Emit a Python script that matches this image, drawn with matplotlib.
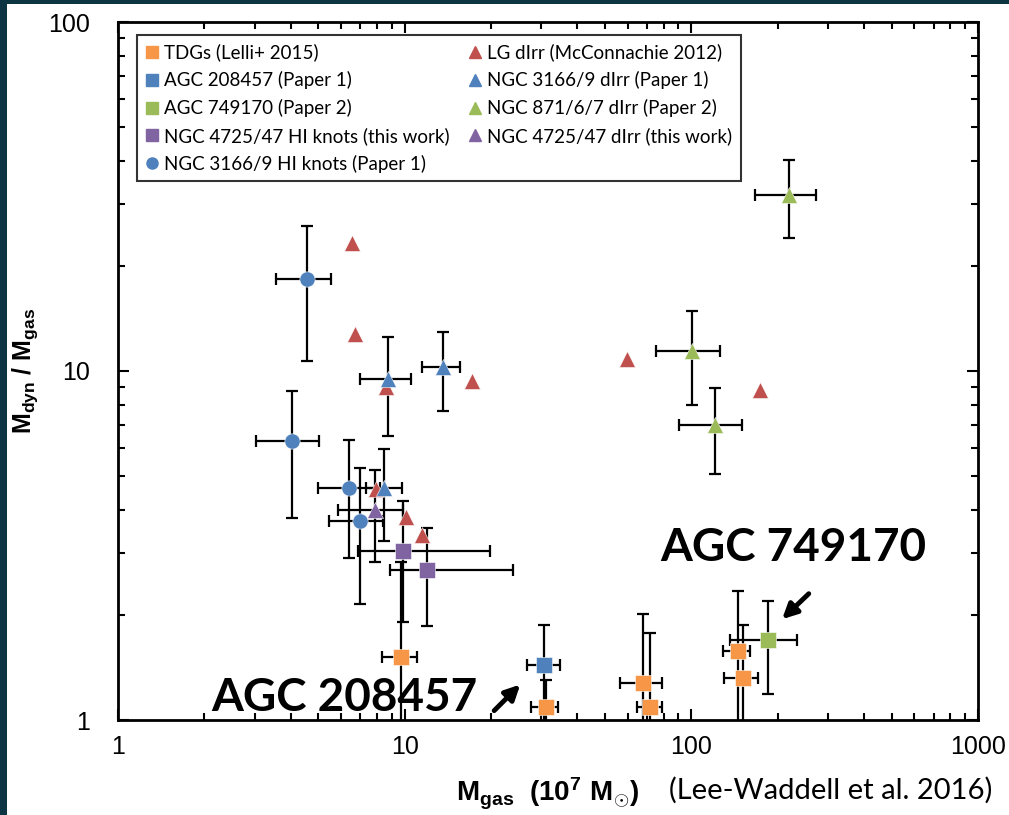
import matplotlib
matplotlib.use("Agg")
import matplotlib.pyplot as plt
from matplotlib.lines import Line2D
from matplotlib.patches import Rectangle
import numpy as np

# Colours (Office palette)
ORANGE = "#F79646"
BLUE = "#4F81BD"
GREEN = "#9BBB59"
PURPLE = "#8064A2"
RED = "#C0504D"

# Each entry: x, y, x_lo, x_hi, y_lo, y_hi  (gas mass in 1e7 Msun, Mdyn/Mgas)
tdg_x = [9.71, 31.1, 67.8, 71.7, 145.5, 151.0]
tdg_y = [1.52, 1.09, 1.28, 1.09, 1.58, 1.32]
tdg_xlo = [8.33, 27.6, 56.4, 64.6, 129.0, 130.0]
tdg_xhi = [11.04, 34.3, 78.9, 78.9, 160.0, 171.0]
tdg_ylo = [0.5, 0.5, 0.5, 0.5, 0.5, 0.5]
tdg_yhi = [2.84, 1.3, 2.01, 1.78, 2.34, 1.87]

agc208_x = [30.6]
agc208_y = [1.44]
agc208_xlo = [26.7]
agc208_xhi = [34.8]
agc208_ylo = [0.8]
agc208_yhi = [1.87]

agc749_x = [185.0]
agc749_y = [1.69]
agc749_xlo = [136.0]
agc749_xhi = [233.0]
agc749_ylo = [1.19]
agc749_yhi = [2.19]

n4725_knot_x = [9.86, 11.96]
n4725_knot_y = [3.05, 2.69]
n4725_knot_xlo = [6.87, 8.89]
n4725_knot_xhi = [19.8, 23.9]
n4725_knot_ylo = [1.91, 1.86]
n4725_knot_yhi = [4.24, 3.55]

n3166_knot_x = [4.56, 4.05, 6.39, 6.98]
n3166_knot_y = [18.3, 6.3, 4.62, 3.72]
n3166_knot_xlo = [3.56, 3.03, 4.99, 5.44]
n3166_knot_xhi = [5.53, 5.02, 8.2, 8.40]
n3166_knot_ylo = [10.7, 3.79, 2.91, 2.15]
n3166_knot_yhi = [26.0, 8.76, 6.35, 5.27]

lg_x = [6.55, 6.71, 8.6, 17.2, 59.6, 173.0, 7.94, 10.1, 11.5]
lg_y = [23.3, 12.8, 9.0, 9.35, 10.8, 8.83, 4.59, 3.81, 3.39]

n3166_dirr_x = [8.74, 13.6, 8.47]
n3166_dirr_y = [9.48, 10.3, 4.62]
n3166_dirr_xlo = [6.98, 11.5, 7.33]
n3166_dirr_xhi = [10.5, 15.6, 9.79]
n3166_dirr_ylo = [6.51, 7.68, 3.26]
n3166_dirr_yhi = [12.5, 12.9, 5.98]

n871_x = [219.0, 100.5, 121.0]
n871_y = [31.9, 11.4, 7.0]
n871_xlo = [167.0, 75.3, 90.5]
n871_xhi = [272.0, 126.0, 150.0]
n871_ylo = [24.0, 8.0, 5.07]
n871_yhi = [40.2, 14.9, 8.94]

n4725_dirr_x = [7.88]
n4725_dirr_y = [4.0]
n4725_dirr_xlo = [5.85]
n4725_dirr_xhi = [9.86]
n4725_dirr_ylo = [2.84]
n4725_dirr_yhi = [5.2]

legend_labels = [
    "TDGs (Lelli+ 2015)",
    "AGC 208457 (Paper 1)",
    "AGC 749170 (Paper 2)",
    "NGC 4725/47 HI knots (this work)",
    "NGC 3166/9 HI knots (Paper 1)",
    "LG dIrr (McConnachie 2012)",
    "NGC 3166/9 dIrr (Paper 1)",
    "NGC 871/6/7 dIrr (Paper 2)",
    "NGC 4725/47 dIrr (this work)",
]

plt.rcParams["mathtext.fontset"] = "custom"
plt.rcParams["mathtext.rm"] = "Liberation Sans"
plt.rcParams["mathtext.bf"] = "Liberation Sans:bold"

fig = plt.figure(figsize=(10.09, 8.15), dpi=100, facecolor="#0c3443")
fig.patches.append(Rectangle((7 / 1009, 0), 1, 811 / 815, transform=fig.transFigure,
                             facecolor="white", edgecolor="none", zorder=-10))
ax = fig.add_axes([118 / 1009, 95 / 815, 860 / 1009, 698 / 815])
ax.set_facecolor("white")


def draw(x, y, color, marker, ms, xlo=None, xhi=None, ylo=None, yhi=None):
    x = np.array(x)
    y = np.array(y)
    if xlo is not None:
        xerr = [x - np.array(xlo), np.array(xhi) - x]
        yerr = [y - np.array(ylo), np.array(yhi) - y]
        ax.errorbar(x, y, xerr=xerr, yerr=yerr, fmt="none", ecolor="black",
                    elinewidth=1.6, capsize=4, capthick=1.6, zorder=2)
    ax.plot(x, y, linestyle="none", marker=marker, ms=ms, color=color,
            mec="white", mew=0.4, zorder=3)


draw(tdg_x, tdg_y, ORANGE, "s", 11, tdg_xlo, tdg_xhi, tdg_ylo, tdg_yhi)
draw(agc208_x, agc208_y, BLUE, "s", 11, agc208_xlo, agc208_xhi, agc208_ylo, agc208_yhi)
draw(agc749_x, agc749_y, GREEN, "s", 11, agc749_xlo, agc749_xhi, agc749_ylo, agc749_yhi)
draw(n4725_knot_x, n4725_knot_y, PURPLE, "s", 11,
     n4725_knot_xlo, n4725_knot_xhi, n4725_knot_ylo, n4725_knot_yhi)
draw(n3166_knot_x, n3166_knot_y, BLUE, "o", 11,
     n3166_knot_xlo, n3166_knot_xhi, n3166_knot_ylo, n3166_knot_yhi)
draw(lg_x, lg_y, RED, "^", 12)
draw(n3166_dirr_x, n3166_dirr_y, BLUE, "^", 12,
     n3166_dirr_xlo, n3166_dirr_xhi, n3166_dirr_ylo, n3166_dirr_yhi)
draw(n871_x, n871_y, GREEN, "^", 12, n871_xlo, n871_xhi, n871_ylo, n871_yhi)
draw(n4725_dirr_x, n4725_dirr_y, PURPLE, "^", 12,
     n4725_dirr_xlo, n4725_dirr_xhi, n4725_dirr_ylo, n4725_dirr_yhi)

ax.set_xscale("log")
ax.set_yscale("log")
ax.set_xlim(1, 1000)
ax.set_ylim(1, 100)
ax.set_xticks([1, 10, 100, 1000])
ax.set_xticklabels(["1", "10", "100", "1000"])
ax.set_yticks([1, 10, 100])
ax.set_yticklabels(["1", "10", "100"])
ax.tick_params(which="both", direction="in", top=True, right=True, width=1.5)
ax.tick_params(which="major", length=8)
ax.tick_params(which="minor", length=5)
ax.tick_params(axis="y", pad=20, labelsize=18)
ax.tick_params(axis="x", pad=11, labelsize=18)
for lab in ax.get_xticklabels() + ax.get_yticklabels():
    lab.set_fontfamily("Liberation Sans")
for sp in ax.spines.values():
    sp.set_linewidth(2)

ax.set_ylabel(r"$\mathbf{M_{dyn}}$ / $\mathbf{M_{gas}}$", fontsize=18,
              fontweight="bold", family="Liberation Sans", labelpad=6)
ax.set_xlabel(r"$\mathbf{M_{gas}}$  $\mathbf{(10^7\ M_{\odot})}$", fontsize=20,
              fontweight="bold", family="Liberation Sans", labelpad=12)
fig.text(831 / 1009, 1 - 790 / 815, "(Lee-Waddell et al. 2016)", fontsize=21,
         family="Lato", ha="center", va="center")

# Legend with marker-only handles
handle_styles = [
    (ORANGE, "s"), (BLUE, "s"), (GREEN, "s"), (PURPLE, "s"), (BLUE, "o"),
    (RED, "^"), (BLUE, "^"), (GREEN, "^"), (PURPLE, "^"),
]
handles = [Line2D([], [], linestyle="none", marker=m, color=c, ms=8)
           for c, m in handle_styles]
leg = ax.legend(handles, legend_labels, ncol=2, loc="upper left",
                bbox_to_anchor=(0.022, 0.981), borderaxespad=0, frameon=True,
                fancybox=False, edgecolor="black", prop={"family": "Lato", "size": 13.5},
                handlelength=0.7, handletextpad=0.3, columnspacing=1.0,
                labelspacing=0.52, borderpad=0.45)
leg.get_frame().set_linewidth(1.5)

# Callouts for the two isolated objects
ax.text(18.0, 1.16, "AGC 208457", fontsize=33, fontweight="bold", family="Lato",
        ha="right", va="center", zorder=1)
ax.annotate("", xy=(25.7, 1.28), xytext=(20.2, 1.05),
            arrowprops=dict(arrowstyle="-|>", lw=3.5, color="black", mutation_scale=22))
ax.text(77.7, 3.11, "AGC 749170", fontsize=33, fontweight="bold", family="Lato",
        ha="left", va="center", zorder=1)
ax.annotate("", xy=(204, 1.92), xytext=(261, 2.33),
            arrowprops=dict(arrowstyle="-|>", lw=3.5, color="black", mutation_scale=22))

fig.savefig("out.png", dpi=100, facecolor=fig.get_facecolor())
